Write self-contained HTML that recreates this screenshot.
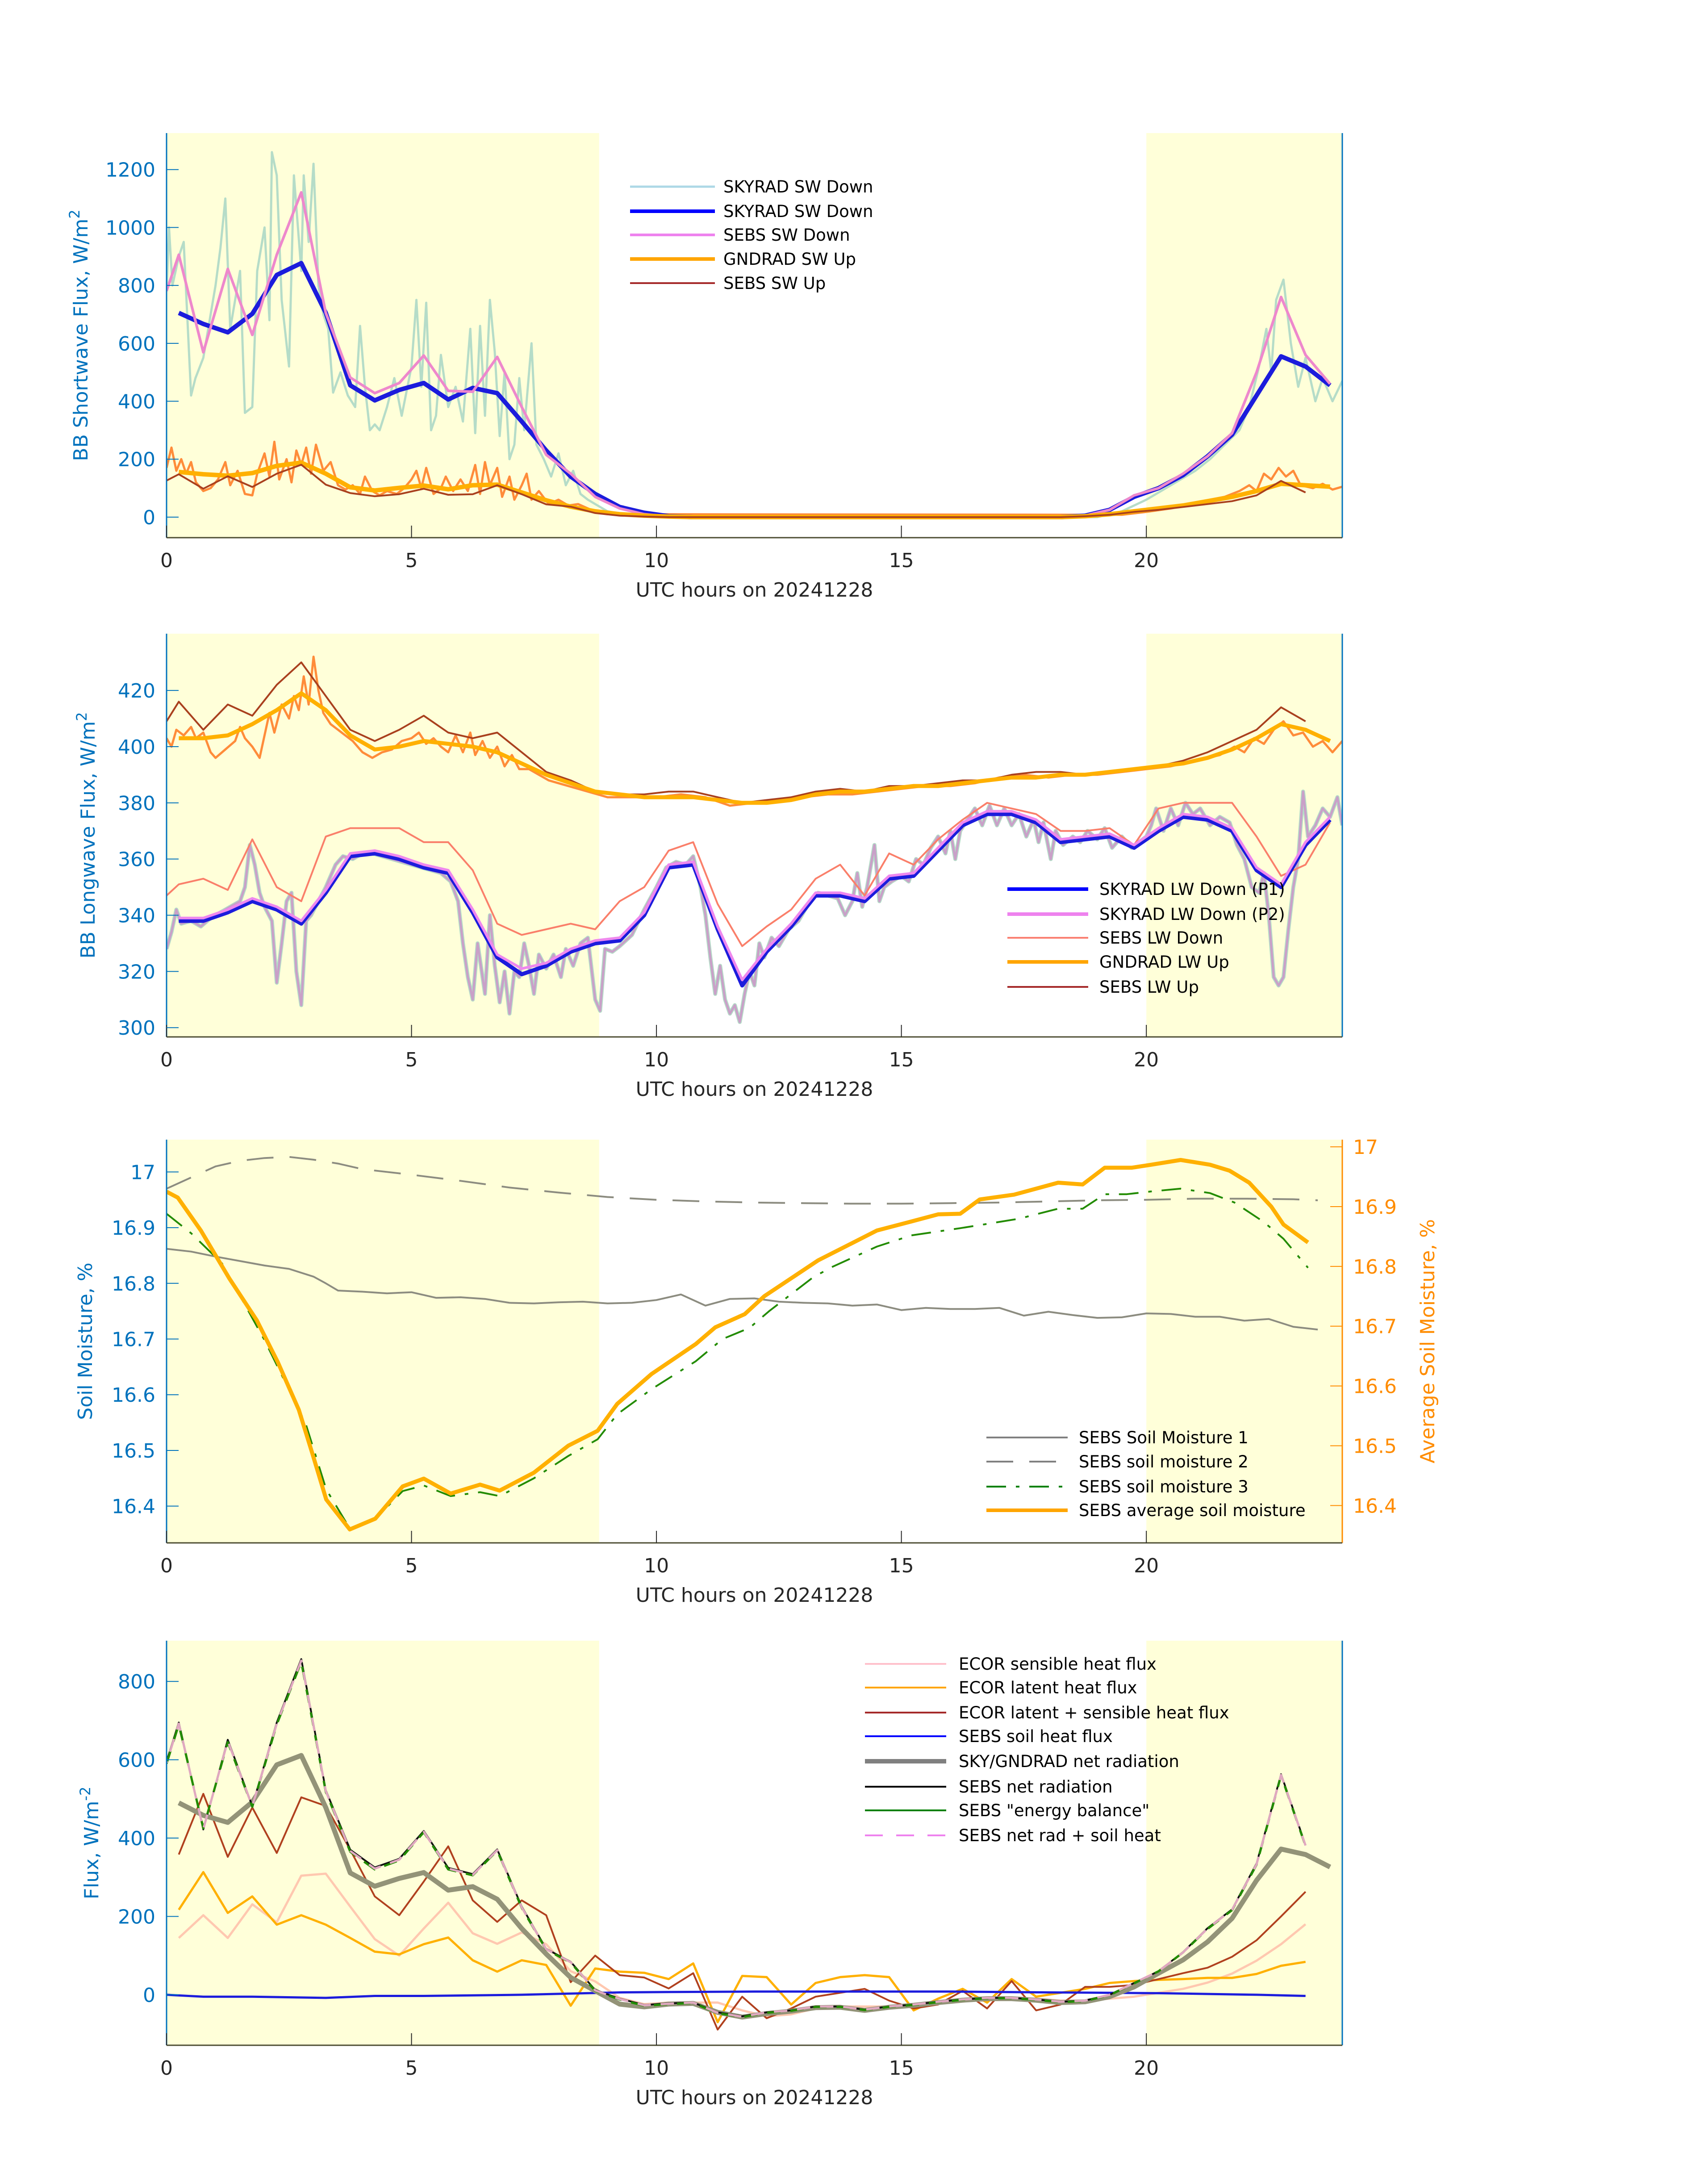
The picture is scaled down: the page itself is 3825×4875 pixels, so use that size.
<!DOCTYPE html>
<html><head><meta charset="utf-8"><title>Surface energy budget 20241228</title>
<style>
html,body{margin:0;padding:0;background:#fff;}
svg{display:block;font-family:"DejaVu Sans","Liberation Sans",sans-serif;}
</style></head>
<body>
<svg id="chart" xmlns="http://www.w3.org/2000/svg" width="3825" height="4875" viewBox="0 0 3825 4875">
<rect x="0" y="0" width="3825" height="4875" fill="#ffffff"/>
</svg>
<script>
// ---------- Panel 1: shortwave ----------
const swTealT=[0,0.05,0.12,0.25,0.35,0.5,0.59,0.75,0.9,1,1.1,1.2,1.3,1.5,1.6,1.75,1.85,2,2.1,2.15,2.25,2.35,2.5,2.6,2.75,2.8,2.9,3,3.1,3.2,3.3,3.4,3.55,3.7,3.85,3.95,4.05,4.15,4.25,4.35,4.5,4.65,4.8,5,5.1,5.2,5.3,5.4,5.5,5.6,5.75,5.9,6.05,6.2,6.3,6.4,6.5,6.6,6.7,6.8,6.9,7,7.1,7.2,7.3,7.45,7.55,7.7,7.85,8,8.15,8.3,8.45,8.6,8.8,9,9.5,19,19.5,20,20.3,20.6,21,21.3,21.6,21.9,22.1,22.3,22.45,22.55,22.65,22.8,22.95,23.1,23.25,23.45,23.6,23.8,24];
const swTealV=[780,1000,800,900,950,420,480,550,700,800,930,1100,650,850,360,380,850,1000,680,1260,1180,750,520,1180,850,1180,950,1220,800,700,650,430,500,420,380,660,450,300,320,300,380,480,350,520,750,450,740,300,350,560,380,450,330,650,290,660,350,750,570,280,500,200,250,480,300,600,250,200,140,220,110,160,80,60,40,20,5,0,20,60,90,120,160,200,250,300,380,520,650,500,750,820,600,450,550,400,480,400,470];
const swOrT=[0,0.1,0.2,0.3,0.4,0.5,0.6,0.75,0.9,1.05,1.2,1.3,1.45,1.6,1.75,1.85,2,2.1,2.2,2.3,2.45,2.55,2.65,2.75,2.85,2.95,3.05,3.2,3.35,3.5,3.65,3.8,3.95,4.05,4.2,4.35,4.5,4.7,4.85,5,5.1,5.2,5.3,5.45,5.6,5.7,5.85,6,6.15,6.3,6.4,6.5,6.6,6.75,6.85,7,7.1,7.25,7.35,7.45,7.6,7.8,8,8.2,8.4,8.6,8.8,9,19.5,20,20.5,21,21.3,21.6,21.9,22.1,22.25,22.4,22.55,22.7,22.85,23,23.15,23.4,23.6,23.8,24];
const swOrV=[170,240,160,200,150,190,120,90,100,130,190,110,160,80,75,150,220,140,260,130,200,120,230,180,240,150,250,160,190,110,95,110,80,140,90,75,90,80,100,130,160,100,170,80,100,140,90,130,90,180,80,190,110,170,70,140,60,110,150,60,90,45,60,40,45,30,15,10,8,18,30,45,60,70,90,110,90,150,130,170,140,160,110,100,115,95,105];
const swBlueV=[705,667,638,702,836,877,705,455,403,439,463,406,446,428,330,230,140,80,35,15,3,0,0,0,0,0,0,0,0,0,0,0,0,0,0,0,0,5,25,70,100,145,210,285,420,555,520,455];
const swPinkV=[781,906,569,857,629,906,1121,705,482,428,463,558,436,433,553,380,215,150,70,30,10,2,0,0,0,0,0,0,0,0,0,0,0,0,0,0,0,0,5,25,75,100,150,210,290,500,760,560,460];
const swGndV=[156,148,143,152,177,188,150,103,92,101,109,96,110,112,85,58,36,20,10,5,2,0,0,0,0,0,0,0,0,0,0,0,0,0,0,0,0,3,10,20,30,40,55,70,90,115,110,105];
const swSebsUpV=[126,148,98,141,104,150,181,112,83,72,79,98,77,79,110,79,44,36,14,5,2,0,0,0,0,0,0,0,0,0,0,0,0,0,0,0,0,0,3,8,18,25,35,45,55,75,125,85];
const swTicks=[0,200,400,600,800,1000,1200];

// ---------- Panel 2: longwave ----------
const lwUpV=[409,416,406,415,411,422,430,418,406,402,406,411,405,403,405,398,391,388,384,383,383,384,384,382,380,381,382,384,385,384,386,386,387,388,388,390,391,391,390,391,392,393,395,398,402,406,414,409];
const lwGndV=[403,403,404,408,413,419,413,404,399,400,402,401,400,398,394,390,387,384,383,382,382,382,381,380,380,381,383,384,384,385,386,386,387,388,389,389,390,390,391,392,393,394,396,399,403,408,406,402];
const lwNoisyUpT=[0,0.1,0.2,0.35,0.5,0.6,0.75,0.9,1,1.2,1.4,1.5,1.6,1.75,1.9,2,2.1,2.2,2.35,2.5,2.6,2.7,2.8,2.9,3,3.1,3.2,3.35,3.5,3.65,3.8,4,4.2,4.4,4.6,4.8,5,5.15,5.3,5.45,5.6,5.75,5.9,6.05,6.2,6.3,6.45,6.6,6.75,6.9,7.05,7.2,7.4,7.6,7.8,8,8.2,8.4,8.6,8.8,9,9.5,10,10.5,11,11.5,12,12.5,13,13.5,14,14.5,15,15.5,16,16.5,17,17.5,18,18.5,19,19.5,20,20.5,21,21.5,21.8,22,22.2,22.4,22.6,22.8,23,23.2,23.4,23.6,23.8,24];
const lwNoisyUpV=[403,400,406,404,407,403,405,398,396,399,402,407,403,400,396,404,412,405,415,410,418,413,425,415,432,420,412,408,406,404,402,398,396,398,399,402,403,405,401,403,400,398,404,398,405,397,402,396,400,393,397,392,392,390,388,387,386,385,384,383,382,382,382,383,382,379,380,381,382,383,383,384,385,386,386,387,389,390,389,390,390,391,392,393,395,397,400,398,403,401,406,409,404,405,400,402,398,402];
const lwDownSebsV=[347,351,353,349,367,350,345,368,371,371,371,366,366,356,337,333,335,337,335,345,350,363,366,344,329,336,342,353,358,347,362,358,367,374,380,378,376,370,370,371,365,378,380,380,380,368,354,358,373];
const lwP1V=[338,338,341,345,342,337,348,361,362,360,357,355,341,325,319,322,327,330,331,340,357,358,335,315,327,336,347,347,345,353,354,363,372,376,376,373,366,367,368,364,370,375,374,370,356,350,365,374];
const lwP2V=[339,339,342,346,343,338,349,362,363,361,358,356,342,326,321,323,328,331,332,341,358,359,336,317,328,337,348,348,346,354,355,364,373,377,377,374,367,368,369,365,371,376,375,371,357,351,366,375];
const lwNoisyDnT=[0,0.1,0.2,0.3,0.5,0.7,0.9,1.1,1.3,1.5,1.6,1.7,1.8,1.9,2,2.15,2.25,2.35,2.45,2.55,2.65,2.75,2.85,2.95,3.1,3.25,3.45,3.6,3.8,4,4.2,4.4,4.6,4.8,5,5.2,5.4,5.6,5.8,5.95,6.05,6.15,6.25,6.35,6.5,6.6,6.7,6.8,6.9,7,7.1,7.2,7.3,7.4,7.5,7.6,7.75,7.9,8.05,8.15,8.3,8.45,8.6,8.75,8.85,8.95,9.1,9.25,9.5,9.75,10,10.2,10.4,10.6,10.75,10.9,11,11.1,11.2,11.3,11.4,11.5,11.6,11.7,11.8,11.9,12,12.1,12.2,12.35,12.5,12.7,12.9,13.1,13.3,13.5,13.7,13.85,14,14.1,14.2,14.3,14.45,14.55,14.65,14.8,15,15.15,15.3,15.45,15.6,15.75,15.9,16,16.1,16.2,16.35,16.5,16.65,16.8,16.95,17.1,17.25,17.4,17.55,17.7,17.8,17.9,18.05,18.15,18.3,18.5,18.65,18.8,19,19.15,19.3,19.5,19.7,19.85,20,20.1,20.2,20.35,20.5,20.65,20.8,20.95,21.1,21.3,21.5,21.7,21.85,22,22.15,22.3,22.4,22.5,22.6,22.7,22.8,22.9,23,23.1,23.2,23.3,23.45,23.6,23.75,23.9,24];
const lwNoisyDnV=[328,334,342,337,338,336,339,341,343,345,350,365,358,348,343,338,316,330,345,348,320,308,338,340,345,350,358,361,360,362,362,361,360,359,358,357,356,355,352,345,330,318,310,330,312,340,322,309,320,305,320,318,330,322,312,326,321,326,318,328,322,330,332,310,306,328,327,329,333,342,350,357,359,358,361,350,340,325,312,322,310,305,308,302,312,320,315,330,325,332,329,335,338,344,348,347,346,340,345,355,343,350,365,345,350,352,354,352,360,358,364,368,362,370,360,370,374,378,372,379,372,378,372,376,368,374,366,373,360,370,365,368,366,370,367,371,364,368,364,366,368,372,378,370,378,372,380,376,378,372,375,373,365,360,350,348,355,340,318,315,318,335,350,360,384,368,372,378,375,382,372];
const lwTicks=[300,320,340,360,380,400,420];

// ---------- Panel 3: soil moisture ----------
const sm1T=[0,0.5,1,1.5,2,2.5,3,3.25,3.5,4,4.5,5,5.5,6,6.5,7,7.5,8,8.5,9,9.5,10,10.5,11,11.5,12,12.5,13,13.5,14,14.5,15,15.5,16,16.5,17,17.5,18,18.5,19,19.5,20,20.5,21,21.5,22,22.5,23,23.5];
const sm1V=[16.862,16.857,16.848,16.84,16.832,16.826,16.812,16.8,16.787,16.785,16.782,16.784,16.774,16.775,16.772,16.765,16.764,16.766,16.767,16.764,16.765,16.77,16.78,16.76,16.772,16.773,16.767,16.765,16.764,16.76,16.762,16.752,16.756,16.754,16.754,16.756,16.742,16.749,16.743,16.738,16.739,16.746,16.745,16.74,16.74,16.733,16.736,16.722,16.717];
const sm2T=[0,0.5,1,1.5,2,2.5,3,3.5,4,5,6,7,8,9,10,11,12,13,14,15,16,17,18,19,20,21,22,23,23.5];
const sm2V=[16.97,16.99,17.01,17.02,17.025,17.027,17.022,17.015,17.005,16.995,16.984,16.972,16.963,16.955,16.95,16.947,16.945,16.944,16.943,16.943,16.944,16.945,16.947,16.949,16.95,16.952,16.952,16.951,16.949];
const sm3T=[0,0.5,1.13,2,2.84,3.26,3.74,4.26,4.82,5.25,5.8,6.4,6.8,7.5,8.2,8.8,9.2,9.9,10.8,11.35,11.9,12.3,13.2,13.6,14.5,15.2,16.2,16.7,17.4,18.2,18.7,19.15,19.6,20.1,20.7,21.3,21.8,22.4,22.8,23.3];
const sm3V=[16.925,16.89,16.836,16.698,16.548,16.43,16.36,16.377,16.427,16.437,16.418,16.425,16.418,16.45,16.49,16.52,16.565,16.61,16.66,16.7,16.72,16.75,16.811,16.83,16.866,16.886,16.899,16.906,16.916,16.934,16.934,16.96,16.96,16.965,16.97,16.962,16.945,16.91,16.88,16.828];
const smAvgT=[0,0.23,0.7,1.28,1.84,2.27,2.7,2.98,3.26,3.74,4.26,4.82,5.25,5.8,6.4,6.8,7.5,8.2,8.8,9.2,9.9,10.8,11.2,11.8,12.2,13.3,13.9,14.5,15.2,15.75,16.2,16.6,17.3,18.2,18.7,19.15,19.7,20.1,20.7,21.3,21.7,22.1,22.55,22.8,23.3];
const smAvgV=[16.925,16.915,16.86,16.78,16.71,16.64,16.56,16.486,16.41,16.36,16.378,16.432,16.445,16.42,16.435,16.425,16.455,16.5,16.525,16.57,16.62,16.67,16.698,16.72,16.75,16.81,16.835,16.86,16.875,16.887,16.888,16.912,16.92,16.94,16.937,16.965,16.965,16.97,16.978,16.97,16.96,16.94,16.9,16.87,16.84];
const smTicks=[16.4,16.5,16.6,16.7,16.8,16.9,17];
const smTickLabels=["16.4","16.5","16.6","16.7","16.8","16.9","17"];

// ---------- Panel 4: fluxes ----------
const netRadV=[595,695,422,651,482,695,857,522,370,325,347,418,324,308,371,225,117,84,12,-10,-26,-22,-20,-45,-55,-45,-40,-30,-30,-38,-30,-25,-18,-12,-8,-8,-12,-18,-15,0,30,60,109,170,218,335,563,382];
const energyBalV=[590,690,425,645,480,690,850,518,365,320,343,415,320,305,368,222,115,82,10,-12,-28,-24,-21,-47,-57,-46,-41,-31,-31,-39,-31,-26,-19,-13,-9,-9,-13,-19,-16,-1,29,60,108,168,216,332,560,380];
const netSoilV=[592,692,423,648,481,692,853,520,367,322,345,416,322,306,369,223,116,83,11,-11,-27,-23,-20,-46,-56,-45,-40,-30,-30,-38,-30,-25,-18,-12,-8,-8,-12,-18,-15,0,30,60,108,169,217,333,561,381];
const skyNetV=[490,458,440,492,587,611,478,311,277,297,312,267,276,244,169,104,44,10,-24,-31,-24,-22,-45,-57,-48,-42,-33,-32,-40,-32,-27,-20,-14,-10,-10,-14,-20,-18,-5,20,55,89,135,195,292,372,358,326];
const ecorSumV=[358,513,352,478,362,504,482,370,251,203,289,379,241,186,241,203,32,100,50,44,16,55,-89,-5,-60,-35,-5,5,15,-15,-35,-25,10,-35,35,-40,-25,20,20,25,40,55,69,97,139,200,263,258];
const ecorLatV=[217,313,209,251,179,203,179,145,110,103,129,146,88,59,88,76,-28,67,59,56,40,80,-70,48,45,-25,30,45,50,45,-40,-10,15,-20,40,-5,5,15,30,35,38,40,43,43,53,74,84,79];
const ecorSensV=[145,203,145,231,185,304,309,225,142,100,169,235,157,130,159,129,60,34,-8,-24,-20,-20,-20,-40,-55,-50,-35,-30,-30,-30,-25,-20,-15,-15,-10,-10,-15,-15,-10,-5,5,15,31,54,87,129,180,183];
const soilHeatT=[0,0.75,1.75,3.25,4.25,5.25,7.25,8.25,9.25,10.25,12,14,16,18,19.25,20.25,21.25,22.25,23.25];
const soilHeatV=[0,-5,-5,-8,-3,-3,0,3,6,7,8,8,8,6,5,4,2,0,-3];
const fluxTicks=[0,200,400,600,800];
const xTicks=[0,5,10,15,20];

// ---------- geometry ----------
const X0=373, X1=3006;
const P=[
 {top:298,bot:1204,min:-71,max:1326},
 {top:1419,bot:2322,min:296.7,max:440.2},
 {top:2552,bot:3455,min:16.334,max:17.058,rmin:16.3375,rmax:17.012},
 {top:3674,bot:4580,min:-129,max:904}
];
const NS="http://www.w3.org/2000/svg";
const svg=document.getElementById('chart');
function sx(h){return X0+(X1-X0)*h/24;}
function sy(p,v){return p.bot-(v-p.min)/(p.max-p.min)*(p.bot-p.top);}
function syR(p,v){return p.bot-(v-p.rmin)/(p.rmax-p.rmin)*(p.bot-p.top);}
function mk(tag,attrs,parent){const e=document.createElementNS(NS,tag);for(const k in attrs)e.setAttribute(k,attrs[k]);(parent||svg).appendChild(e);return e;}
function halfT(first,n){const t=[];if(first)t.push(0);for(let i=0;i<n;i++)t.push(0.25+0.5*i);return t;}
function pathD(ts,vs,yf){const n=Math.min(ts.length,vs.length);let d='';for(let i=0;i<n;i++){d+=(i?'L':'M')+sx(ts[i]).toFixed(1)+' '+yf(vs[i]).toFixed(1);}return d;}

const defs=mk('defs',{});
P.forEach((p,i)=>{const c=mk('clipPath',{id:'clip'+i},defs);mk('rect',{x:X0,y:p.top,width:X1-X0,height:p.bot-p.top},c);});

function series(gi,ts,vs,color,w,name,dash,yf){
  const p=P[gi];
  const f=yf||(v=>sy(p,v));
  const el=mk('path',{d:pathD(ts,vs,f),fill:'none',stroke:color,'stroke-width':w,'stroke-linejoin':'round','clip-path':'url(#clip'+gi+')'});
  if(dash)el.setAttribute('stroke-dasharray',dash);
  
  
  return el;
}

const TICKCOL='#0072bd', XCOL='#262626';
P.forEach((p,gi)=>{
  const bg=mk('rect',{x:X0,y:p.top,width:X1-X0,height:p.bot-p.top,fill:'#ffffff'});
  
  
  const s1=mk('rect',{x:X0,y:p.top,width:sx(8.83)-X0,height:p.bot-p.top,fill:'#ffffd9'});
  
  
  const s2=mk('rect',{x:sx(20),y:p.top,width:X1-sx(20),height:p.bot-p.top,fill:'#ffffd9'});
  
  
});

series(0,swTealT,swTealV,'#b5dcc8',5,'skyrad-sw-down-raw');
series(0,swOrT,swOrV,'#ff8c3a',5,'gndrad-sw-up-raw');
series(0,halfT(false,48),swBlueV,'#1c1cdc',10,'skyrad-sw-down-line');
series(0,halfT(true,48),swPinkV,'#ee88cc',6,'sebs-sw-down-line');
series(0,halfT(false,48),swGndV,'#ffb000',10,'gndrad-sw-up-line');
series(0,halfT(true,47),swSebsUpV,'#a9401e',4,'sebs-sw-up-line');

series(1,lwNoisyUpT,lwNoisyUpV,'#ff8c3a',5,'gndrad-lw-up-raw');
series(1,halfT(true,47),lwUpV,'#a9401e',4,'sebs-lw-up-line');
series(1,halfT(false,48),lwGndV,'#ffb000',9,'gndrad-lw-up-line');
series(1,lwNoisyDnT,lwNoisyDnV,'#b5dcc8',9,'skyrad-lw-down-raw-p1');
series(1,lwNoisyDnT,lwNoisyDnV,'#c9a0c8',5,'skyrad-lw-down-raw-p2');
series(1,halfT(true,48),lwDownSebsV,'#fa7f6a',4,'sebs-lw-down-line');
series(1,halfT(false,48),lwP1V,'#1c1cdc',9,'skyrad-lw-down-p1-line');
series(1,halfT(false,48),lwP2V,'#ee88ee',6,'skyrad-lw-down-p2-line');

series(2,sm1T,sm1V,'#8c8c80',4,'sebs-soil-moisture-1');
series(2,sm2T,sm2V,'#8c8c80',4,'sebs-soil-moisture-2','60,36');
series(2,sm3T,sm3V,'#228b00',4,'sebs-soil-moisture-3','44,22,8,22');
series(2,smAvgT,smAvgV,'#ffb000',9,'sebs-average-soil-moisture',null,v=>syR(P[2],v));

series(3,halfT(false,47),ecorSensV,'#ffc8b0',5,'ecor-sensible-heat-flux');
series(3,halfT(false,47),ecorLatV,'#ffb000',5,'ecor-latent-heat-flux');
series(3,halfT(false,47),ecorSumV,'#b0401e',4,'ecor-latent-plus-sensible');
series(3,soilHeatT,soilHeatV,'#1c1cdc',5,'sebs-soil-heat-flux');
series(3,halfT(false,48),skyNetV,'#939378',11,'sky-gndrad-net-radiation');
series(3,halfT(true,47),netRadV,'#111111',4,'sebs-net-radiation');
series(3,halfT(true,47),energyBalV,'#228b00',5,'sebs-energy-balance','30,22');
series(3,halfT(true,47),netSoilV,'#e0a8c0',5,'sebs-net-rad-plus-soil-heat','30,22').setAttribute('stroke-dashoffset','26');

const yTitles=['BB Shortwave Flux, W/m','BB Longwave Flux, W/m','Soil Moisture, %','Flux, W/m'];
const ySup=['2','2','','-2'];
const yTitleX=[196,212,206,220];
const tickSets=[swTicks,lwTicks,smTicks,fluxTicks];
P.forEach((p,gi)=>{
  const g=mk('g',{});
  
  
  const la=mk('line',{x1:X0,y1:p.top,x2:X0,y2:p.bot,stroke:'#0072bd','stroke-width':3},g);
  
  
  const ra=mk('line',{x1:X1,y1:p.top,x2:X1,y2:p.bot,stroke:gi==2?'#ff8c00':'#0072bd','stroke-width':3},g);
  
  
  const ba=mk('line',{x1:X0,y1:p.bot,x2:X1,y2:p.bot,stroke:'#4d4d33','stroke-width':3},g);
  
  
  xTicks.forEach(t=>{
    const tk=mk('line',{x1:sx(t),y1:p.bot,x2:sx(t),y2:p.bot-27,stroke:'#262626','stroke-width':2},g);
    
    
    const tl=mk('text',{x:sx(t),y:p.bot+66,'text-anchor':'middle','font-size':44,fill:XCOL},g);
    tl.textContent=String(t);
    
    
  });
  tickSets[gi].forEach((t,i)=>{
    const y=sy(p,t);
    const tk=mk('line',{x1:X0,y1:y,x2:X0+27,y2:y,stroke:'#0072bd','stroke-width':2},g);
    
    
    const tl=mk('text',{x:348,y:y+16,'text-anchor':'end','font-size':44,fill:TICKCOL},g);
    tl.textContent=gi==2?smTickLabels[i]:String(t);
    
    
  });
  if(gi==2){
    smTicks.forEach((t,i)=>{
      const y=syR(p,t);
      const tk=mk('line',{x1:X1-27,y1:y,x2:X1,y2:y,stroke:'#ff8c00','stroke-width':2},g);
      
      
      const tl=mk('text',{x:3030,y:y+16,'text-anchor':'start','font-size':44,fill:'#ff8c00'},g);
      tl.textContent=smTickLabels[i];
      
      
    });
    const rt=mk('text',{x:0,y:0,'text-anchor':'middle','font-size':44,fill:'#ff8c00',transform:'translate(3212,'+((p.top+p.bot)/2)+') rotate(-90)'},g);
    rt.textContent='Average Soil Moisture, %';
    
    
  }
  const yt=mk('text',{x:0,y:0,'text-anchor':'middle','font-size':44,fill:TICKCOL,transform:'translate('+yTitleX[gi]+','+((p.top+p.bot)/2)+') rotate(-90)'},g);
  yt.textContent=yTitles[gi];
  if(ySup[gi]){const ts=mk('tspan',{dy:-18,'font-size':32},yt);ts.textContent=ySup[gi];}
  
  
  const xt=mk('text',{x:(X0+X1)/2,y:p.bot+132,'text-anchor':'middle','font-size':44,fill:XCOL},g);
  xt.textContent='UTC hours on 20241228';
  
  
});

function legend(items,lx1,lx2,tx,ys,name){
  const g=mk('g',{});
  
  
  items.forEach((it,i)=>{
    const ln=mk('line',{x1:lx1,y1:ys[i],x2:lx2,y2:ys[i],stroke:it[1],'stroke-width':it[2]},g);
    if(it[3])ln.setAttribute('stroke-dasharray',it[3]);
    
    
    const t=mk('text',{x:tx,y:ys[i]+13,'font-size':37,fill:'#000'},g);
    t.textContent=it[0];
    
    
  });
}
legend([['SKYRAD SW Down','#add8e6',5],['SKYRAD SW Down','#0000ff',8],['SEBS SW Down','#ee82ee',6],['GNDRAD SW Up','#ffa500',8],['SEBS SW Up','#a52a2a',4]],1411,1601,1620,[418,473,526,580,634],'legend-shortwave');
legend([['SKYRAD LW Down (P1)','#0000ff',8],['SKYRAD LW Down (P2)','#ee82ee',8],['SEBS LW Down','#fa8072',4],['GNDRAD LW Up','#ffa500',8],['SEBS LW Up','#a52a2a',4]],2256,2437,2462,[1991,2047,2100,2154,2210],'legend-longwave');
legend([['SEBS Soil Moisture 1','#808080',4],['SEBS soil moisture 2','#808080',4,'60,36'],['SEBS soil moisture 3','#008000',4,'44,22,8,22'],['SEBS average soil moisture','#ffa500',8]],2209,2391,2416,[3219,3273,3329,3382],'legend-soil-moisture');
legend([['ECOR sensible heat flux','#ffc0cb',4],['ECOR latent heat flux','#ffa500',4],['ECOR latent + sensible heat flux','#a52a2a',4],['SEBS soil heat flux','#0000ff',4],['SKY/GNDRAD net radiation','#808080',10],['SEBS net radiation','#000000',4],['SEBS "energy balance"','#008000',4],['SEBS net rad + soil heat','#ee82ee',4,'40,30']],1937,2119,2147,[3726,3779,3835,3888,3944,4001,4054,4110],'legend-flux');
</script>
</body></html>
